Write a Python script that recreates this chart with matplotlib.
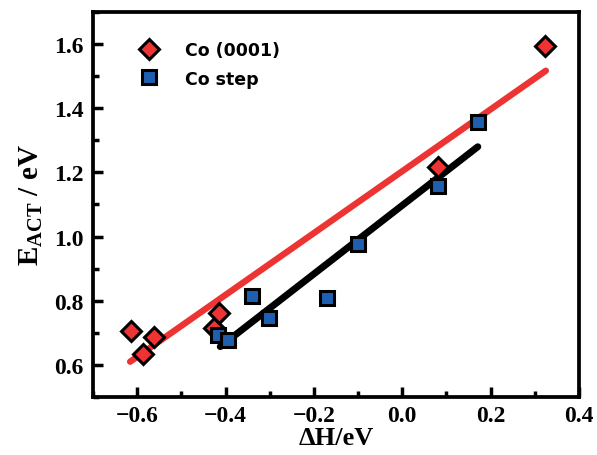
import numpy as np
import matplotlib.pyplot as plt
from matplotlib.ticker import MultipleLocator

# Co (0001) terrace
dh_terrace = [-0.614, -0.587, -0.563, -0.426, -0.415, 0.081, 0.323]
ea_terrace = [0.705, 0.633, 0.687, 0.716, 0.762, 1.218, 1.595]

# Co step
dh_step = [-0.416, -0.394, -0.339, -0.302, -0.171, -0.101, 0.082, 0.171]
ea_step = [0.693, 0.679, 0.814, 0.745, 0.809, 0.977, 1.157, 1.357]

# fitted lines (end points)
fit_terrace_x = [-0.616, 0.325]
fit_terrace_y = [0.610, 1.517]
fit_step_x = [-0.412, 0.171]
fit_step_y = [0.657, 1.280]

red = '#ee3333'
blue = '#1f5fb0'

plt.rcParams['mathtext.fontset'] = 'custom'
plt.rcParams['mathtext.bf'] = 'Liberation Serif:bold'
plt.rcParams['mathtext.rm'] = 'Liberation Serif:bold'

fig = plt.figure(figsize=(5.97, 4.56), dpi=100)
ax = fig.add_axes([0.1558, 0.1272, 0.814, 0.8443])

ax.plot(fit_terrace_x, fit_terrace_y, color=red, lw=4.6, solid_capstyle='round', zorder=2)
ax.plot(fit_step_x, fit_step_y, color='black', lw=5, solid_capstyle='round', zorder=2)

ax.plot(dh_terrace, ea_terrace, 'D', ms=10.5, mfc=red, mec='black', mew=2.2,
        label='Co (0001)', zorder=3)
ax.plot(dh_step, ea_step, 's', ms=9.5, mfc=blue, mec='black', mew=2.2,
        label='Co step', zorder=3)

ax.set_xlim(-0.7, 0.4)
ax.set_ylim(0.5, 1.7)
ax.xaxis.set_major_locator(MultipleLocator(0.2))
ax.xaxis.set_minor_locator(MultipleLocator(0.1))
ax.yaxis.set_major_locator(MultipleLocator(0.2))
ax.yaxis.set_minor_locator(MultipleLocator(0.1))
ax.tick_params(which='both', direction='in', width=2.5, top=False, right=False)
ax.tick_params(which='major', length=7.5)
ax.tick_params(which='minor', length=4.5)
ax.tick_params(axis='y', which='major', pad=7)
ax.tick_params(axis='x', which='major', pad=6)
for s in ax.spines.values():
    s.set_linewidth(2.7)

for lab in ax.get_xticklabels() + ax.get_yticklabels():
    lab.set_fontfamily('Liberation Serif')
    lab.set_fontweight('bold')
    lab.set_fontsize(17)

ax.set_xlabel('ΔH/eV', fontfamily='Liberation Serif', fontweight='bold', fontsize=19, labelpad=0)
ax.set_ylabel(r'E$_{\mathregular{ACT}}$ / eV', fontfamily='Liberation Serif', fontweight='bold',
              fontsize=21, labelpad=6)

leg = ax.legend(loc='upper left', bbox_to_anchor=(0.047, 0.965), frameon=False,
                prop={'family': 'DejaVu Sans', 'weight': 'bold', 'size': 12.5},
                handletextpad=1.1, labelspacing=0.6, numpoints=1)

fig.savefig('out.png', dpi=100)
